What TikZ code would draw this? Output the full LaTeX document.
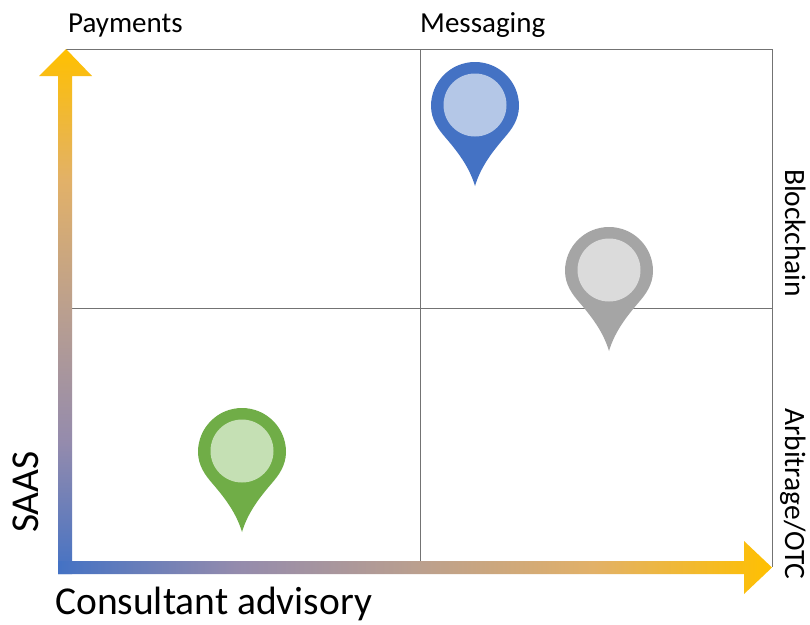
\documentclass[tikz,border=0pt]{standalone}
\usepackage{fontspec}
\setmainfont{Carlito}
\definecolor{axisblue}{HTML}{4472C4}
\definecolor{axisgold}{HTML}{FFC000}
\definecolor{axisA}{HTML}{948BAD}
\definecolor{axisB}{HTML}{BA9F8F}
\definecolor{axisC}{HTML}{E2B168}
\definecolor{pinblue}{HTML}{4472C4}
\definecolor{pinblueL}{HTML}{B4C7E7}
\definecolor{pingrey}{HTML}{A5A5A5}
\definecolor{pingreyL}{HTML}{DBDBDB}
\definecolor{pingreen}{HTML}{70AD47}
\definecolor{pingreenL}{HTML}{C5E0B4}
\pgfdeclareverticalshading{axisup}{100bp}{color(0bp)=(axisblue); color(25bp)=(axisblue); color(37.5bp)=(axisA); color(50bp)=(axisB); color(62.5bp)=(axisC); color(75bp)=(axisgold); color(100bp)=(axisgold)}
\pgfdeclarehorizontalshading{axisright}{100bp}{color(0bp)=(axisblue); color(25bp)=(axisblue); color(37.5bp)=(axisA); color(50bp)=(axisB); color(62.5bp)=(axisC); color(75bp)=(axisgold); color(100bp)=(axisgold)}
\tikzset{
  gridline/.style={draw=black!55,line width=0.7pt},
  toplabel/.style={inner sep=0pt,anchor=base west,font=\fontsize{29}{34}\selectfont},
  sidelabel/.style={inner sep=0pt,anchor=base,rotate=-90,font=\fontsize{29.5}{34}\selectfont},
  biglabel/.style={inner sep=0pt,font=\fontsize{39.5}{46}\selectfont},
  pics/mappin/.style 2 args={code={
    \fill[#1] (-44,0) arc[start angle=180,end angle=360,radius=44]
      .. controls (44,14) and (36,24) .. (30,31)
      .. controls (18,45) and (6,60) .. (0,80)
      .. controls (-6,60) and (-18,45) .. (-30,31)
      .. controls (-36,24) and (-44,14) .. (-44,0) -- cycle;
    \fill[#2] (0,-1) circle[radius=31.5];
  }}
}
\begin{document}
\begin{tikzpicture}[x=1pt,y=-1pt]
\useasboundingbox (0,0) rectangle (810,624);
\fill[white] (0,0) rectangle (810,624);
% quadrant grid
\coordinate (gridNW) at (66,49);
\coordinate (gridNE) at (772,49);
\coordinate (gridSE) at (772,567);
\coordinate (gridTopMid) at (420,49);
\coordinate (gridBotMid) at (420,561);
\coordinate (gridWestMid) at (72,308);
\coordinate (gridEastMid) at (772,308);
\draw[gridline] (gridNW) -- (gridNE) -- (gridSE);
\draw[gridline] (gridTopMid) -- (gridBotMid);
\draw[gridline] (gridWestMid) -- (gridEastMid);
% axes
\shade[shading=axisup]
  (58,574) -- (58,76) -- (39,76) -- (66,49) -- (92,76) -- (72,76) -- (72,574) -- cycle;
\shade[shading=axisright]
  (58,574) -- (58,561) -- (744,561) -- (744,541) -- (772,567.5) -- (744,594) -- (744,574) -- cycle;
% pins
\pic at (475,106) {mappin={pinblue}{pinblueL}};
\pic at (609,271) {mappin={pingrey}{pingreyL}};
\pic at (242,452) {mappin={pingreen}{pingreenL}};
% labels
\node[toplabel] (payments) at (68,32) {Payments};
\node[toplabel] (messaging) at (420,32) {Messaging};
\node[sidelabel] (blockchain) at (785,233) {Blockchain};
\node[sidelabel] (arbitrage) at (785,494) {Arbitrage/OTC};
\node[biglabel,anchor=base,rotate=90] (saas) at (38,492) {SAAS};
\node[biglabel,anchor=base west] (consultant) at (55,614) {Consultant advisory};
\end{tikzpicture}
\end{document}
